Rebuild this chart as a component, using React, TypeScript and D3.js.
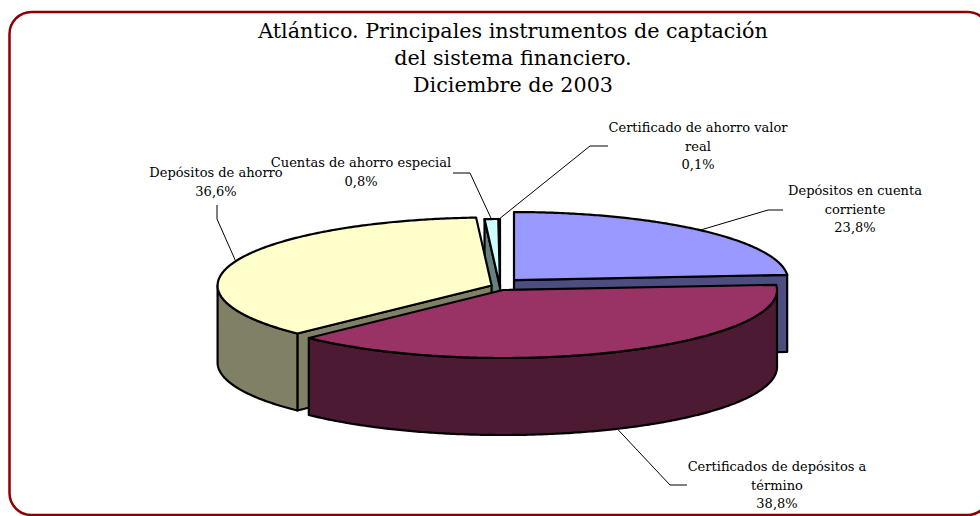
import React from "react";
import * as d3 from "d3";

// slices in Excel order, clockwise from 12 o'clock
const categories = [
  "Depósitos en cuenta corriente",
  "Certificados de depósitos a término",
  "Depósitos de ahorro",
  "Cuentas de ahorro especial",
  "Certificado de ahorro valor real",
];
const values = [23.8, 38.8, 36.6, 0.8, 0.1];
// how the category name wraps in the label
const labelNames = [
  ["Depósitos en cuenta", "corriente"],
  ["Certificados de depósitos a", "término"],
  ["Depósitos de ahorro"],
  ["Cuentas de ahorro especial"],
  ["Certificado de ahorro valor", "real"],
];
const colors = ["#9999FF", "#993366", "#FFFFCC", "#CCFFFF", "#660066"];
const explode = [20.6, 7.2, 9, 0, 0];

const titleLines = [
  "Atlántico. Principales instrumentos de captación",
  "del sistema financiero.",
  "Diciembre de 2003",
];

// label layout: text centre x, first baseline, leader start, leader elbow
const labelX = [855, 777, 216, 361, 698];
const labelY = [195, 471, 177, 167, 132];
const leaderFrom = [[783, 210], [687, 485], [217, 205], [453, 173], [608, 146]];
const leaderElbow = [[768, 210], [670, 485], [217, 219], [470, 173], [590, 146]];

const W = 980;
const H = 516;
const CX = 500;
const CY = 287;
const RX = 274;
const RY = 68;
const DEPTH = 77;
const TILT = 0.46;
const FONT = "'DejaVu Serif', serif";

const esLocale = d3.formatLocale({
  decimal: ",",
  thousands: ".",
  grouping: [3],
  currency: ["", ""],
});
const pct = esLocale.format(".1f");

const shade = (c: string) => {
  const r = d3.rgb(c);
  return d3.rgb(r.r * 0.5, r.g * 0.5, r.b * 0.5).formatHex();
};

type P = [number, number];

function App() {
  const pie = d3.pie<number>().sort(null).value((d) => d);
  const arcs = pie(values);
  const line = d3.line<P>();

  const slices = arcs.map((a, i) => {
    const mid = (a.startAngle + a.endAngle) / 2;
    const ax = CX + explode[i] * Math.sin(mid);
    const ay = CY - explode[i] * Math.cos(mid) * TILT;
    const rim = (t: number, z: number): P => [
      ax + RX * Math.sin(t),
      ay - RY * Math.cos(t) + z,
    ];
    const rimPts = (t0: number, t1: number, z: number): P[] => {
      const n = Math.max(2, Math.ceil(Math.abs(t1 - t0) / 0.01));
      return d3.range(n + 1).map((k) => rim(t0 + ((t1 - t0) * k) / n, z));
    };
    const faces: { d: string; fill: string }[] = [];
    const side = shade(colors[i]);
    // cut faces that look toward the viewer
    const cut = (t: number) => {
      const r0 = rim(t, 0);
      const pts: P[] = [[ax, ay], r0, [r0[0], r0[1] + DEPTH], [ax, ay + DEPTH]];
      faces.push({ d: line(pts) + "Z", fill: side });
    };
    if (Math.sin(a.startAngle) < -1e-6) cut(a.startAngle);
    if (Math.sin(a.endAngle) > 1e-6) cut(a.endAngle);
    // outer wall, front half only
    const s = Math.max(a.startAngle, Math.PI / 2);
    const e = Math.min(a.endAngle, (3 * Math.PI) / 2);
    if (e > s) {
      const pts = [...rimPts(s, e, 0), ...rimPts(e, s, DEPTH)];
      faces.push({ d: line(pts) + "Z", fill: side });
    }
    const top: P[] = [[ax, ay], ...rimPts(a.startAngle, a.endAngle, 0)];
    faces.push({ d: line(top) + "Z", fill: colors[i] });

    const front = Math.cos(mid) < 0;
    const anchor = rim(mid, front ? DEPTH : 0);
    return { i, mid, faces, anchor };
  });

  const order = [...slices].sort((p, q) => -Math.cos(p.mid) - -Math.cos(q.mid));

  return (
    <svg
      width={W}
      height={H}
      style={{ position: "absolute", left: 0, top: 0, background: "#fff" }}
    >
      <rect
        x={9.5}
        y={12}
        width={980}
        height={503}
        rx={22}
        fill="#fff"
        stroke="#8B0000"
        strokeWidth={2.5}
      />
      {titleLines.map((t, k) => (
        <text
          key={k}
          x={513}
          y={38 + k * 27}
          textAnchor="middle"
          fontFamily={FONT}
          fontSize={20.7}
          fill="#000"
        >
          {t}
        </text>
      ))}
      <g stroke="#000" strokeWidth={2.2} strokeLinejoin="round">
        {order.map((sl) =>
          sl.faces.map((f, k) => (
            <path key={`${sl.i}-${k}`} d={f.d} fill={f.fill} />
          ))
        )}
      </g>
      <g stroke="#000" strokeWidth={1} fill="none">
        {slices.map((sl) => (
          <path
            key={sl.i}
            d={line([leaderFrom[sl.i] as P, leaderElbow[sl.i] as P, sl.anchor]) || ""}
          />
        ))}
      </g>
      <g fontFamily={FONT} fontSize={13} fill="#000" textAnchor="middle">
        {categories.map((c, i) => {
          const lines = [...labelNames[i], pct(values[i]) + "%"];
          return (
            <text key={c} x={labelX[i]} y={labelY[i]}>
              {lines.map((l, k) => (
                <tspan key={k} x={labelX[i]} dy={k === 0 ? 0 : 18.5}>
                  {l}
                </tspan>
              ))}
            </text>
          );
        })}
      </g>
    </svg>
  );
}

export default App;
